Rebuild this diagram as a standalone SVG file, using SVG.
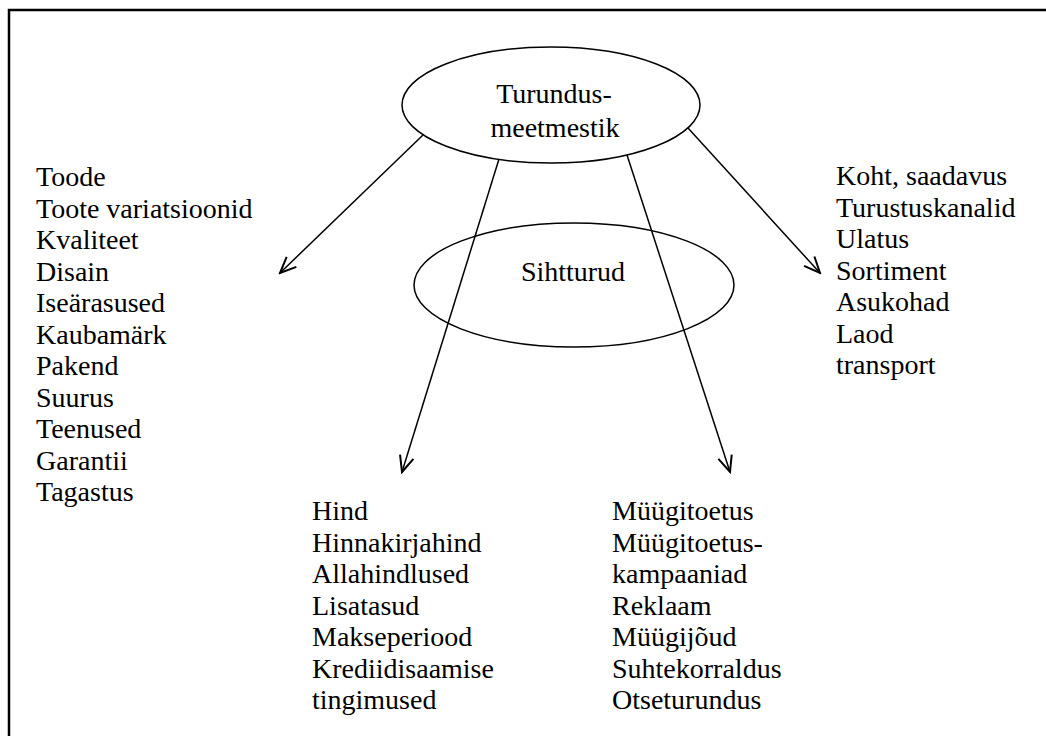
<svg xmlns="http://www.w3.org/2000/svg" width="1046" height="736" viewBox="0 0 1046 736">
<defs>
<style>
.t{font-family:"Liberation Serif","Times New Roman",serif;font-size:28px;fill:#000}
.e{fill:none;stroke:#000;stroke-width:1.5}
.c{stroke:#000;stroke-width:1.5;fill:none;marker-end:url(#a)}
</style>
<marker id="a" viewBox="0 0 20 20" refX="18" refY="10" markerWidth="20" markerHeight="20" markerUnits="userSpaceOnUse" orient="auto">
<path d="M2,3 L18,10 L2,17" fill="none" stroke="#000" stroke-width="2"/>
</marker>
</defs>
<rect width="1046" height="736" fill="#fff"/>
<path d="M9,736 L9,10 L1046,10" fill="none" stroke="#000" stroke-width="2.5"/>
<g id="connectors">
<line class="c" x1="423" y1="135" x2="280" y2="273"/>
<line class="c" x1="688" y1="128" x2="820" y2="273"/>
<line class="c" x1="499" y1="159" x2="402" y2="472"/>
<line class="c" x1="627" y1="155" x2="730" y2="472"/>
</g>
<g id="turundusmeetmestik">
<ellipse class="e" cx="551" cy="105" rx="149" ry="58"/>
<text class="t" x="554" y="103" text-anchor="middle">Turundus-</text>
<text class="t" x="555" y="137" text-anchor="middle">meetmestik</text>
</g>
<g id="sihtturud">
<ellipse class="e" cx="574" cy="285" rx="160" ry="62"/>
<text class="t" x="573" y="281" text-anchor="middle">Sihtturud</text>
</g>
<g id="toode">
<text class="t" x="36" y="186">Toode</text>
<text class="t" x="36" y="217.5">Toote variatsioonid</text>
<text class="t" x="36" y="249">Kvaliteet</text>
<text class="t" x="36" y="280.5">Disain</text>
<text class="t" x="36" y="312">Iseärasused</text>
<text class="t" x="36" y="343.5">Kaubamärk</text>
<text class="t" x="36" y="375">Pakend</text>
<text class="t" x="36" y="406.5">Suurus</text>
<text class="t" x="36" y="438">Teenused</text>
<text class="t" x="36" y="469.5">Garantii</text>
<text class="t" x="36" y="501">Tagastus</text>
</g>
<g id="koht">
<text class="t" x="836" y="185">Koht, saadavus</text>
<text class="t" x="836" y="216.5">Turustuskanalid</text>
<text class="t" x="836" y="248">Ulatus</text>
<text class="t" x="836" y="279.5">Sortiment</text>
<text class="t" x="836" y="311">Asukohad</text>
<text class="t" x="836" y="342.5">Laod</text>
<text class="t" x="836" y="374">transport</text>
</g>
<g id="hind">
<text class="t" x="312" y="520">Hind</text>
<text class="t" x="312" y="551.5">Hinnakirjahind</text>
<text class="t" x="312" y="583">Allahindlused</text>
<text class="t" x="312" y="614.5">Lisatasud</text>
<text class="t" x="312" y="646">Makseperiood</text>
<text class="t" x="312" y="677.5">Krediidisaamise</text>
<text class="t" x="312" y="709">tingimused</text>
</g>
<g id="myygitoetus">
<text class="t" x="612" y="520">Müügitoetus</text>
<text class="t" x="612" y="551.5">Müügitoetus-</text>
<text class="t" x="612" y="583">kampaaniad</text>
<text class="t" x="612" y="614.5">Reklaam</text>
<text class="t" x="612" y="646">Müügijõud</text>
<text class="t" x="612" y="677.5">Suhtekorraldus</text>
<text class="t" x="612" y="709">Otseturundus</text>
</g>
</svg>
